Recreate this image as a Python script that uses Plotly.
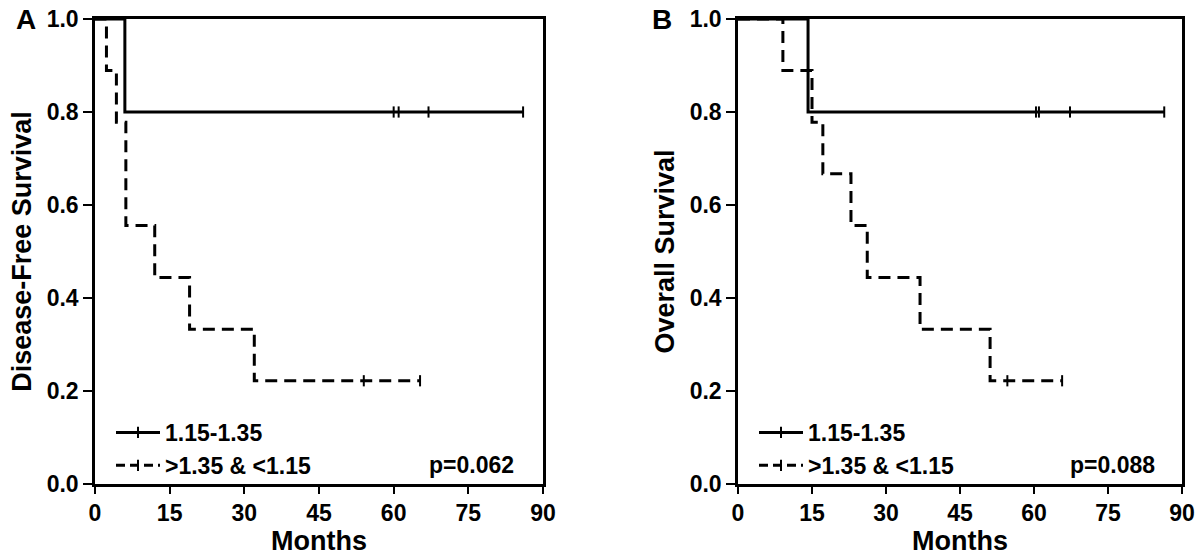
import plotly.graph_objects as go

# ---- Data ----
# Panel A: Disease-free survival
a_solid_t = [0, 6, 86]
a_solid_s = [1.0, 0.8, 0.8]
a_solid_cens_t = [60, 61, 67, 86]
a_solid_cens_s = [0.8, 0.8, 0.8, 0.8]

a_dash_t = [0, 2.3, 4.3, 6.2, 12, 19, 32, 65.3]
a_dash_s = [1.0, 0.889, 0.778, 0.556, 0.444, 0.333, 0.222, 0.222]
a_dash_cens_t = [54, 65.3]
a_dash_cens_s = [0.222, 0.222]

# Panel B: Overall survival
b_solid_t = [0, 14.2, 86.4]
b_solid_s = [1.0, 0.8, 0.8]
b_solid_cens_t = [60.4, 61.0, 67.3, 86.4]
b_solid_cens_s = [0.8, 0.8, 0.8, 0.8]

b_dash_t = [0, 9.1, 15.0, 17.2, 22.9, 26.2, 36.9, 51.1, 65.7]
b_dash_s = [1.0, 0.889, 0.778, 0.667, 0.556, 0.444, 0.333, 0.222, 0.222]
b_dash_cens_t = [54.6, 65.7]
b_dash_cens_s = [0.222, 0.222]

group_names = ["1.15-1.35", ">1.35 & <1.15"]
p_values = ["p=0.062", "p=0.088"]
y_titles = ["Disease-Free Survival", "Overall Survival"]
panel_letters = ["A", "B"]
x_ticks = [0, 15, 30, 45, 60, 75, 90]
y_ticks = [0.0, 0.2, 0.4, 0.6, 0.8, 1.0]

FONT = "Arial, Liberation Sans, sans-serif"
DASH = "12px,7px"
LW = 3

fig = go.Figure()

panels = [
    ("x", "y", "legend", a_solid_t, a_solid_s, a_solid_cens_t, a_solid_cens_s,
     a_dash_t, a_dash_s, a_dash_cens_t, a_dash_cens_s),
    ("x2", "y2", "legend2", b_solid_t, b_solid_s, b_solid_cens_t, b_solid_cens_s,
     b_dash_t, b_dash_s, b_dash_cens_t, b_dash_cens_s),
]

cens_marker = dict(symbol="line-ns", size=8, line=dict(color="black", width=2))

for (xa, ya, lg, st, ss, sct, scs, dt, ds, dct, dcs) in panels:
    fig.add_trace(go.Scatter(x=st, y=ss, mode="lines", line=dict(color="black", width=LW, shape="hv"),
                             xaxis=xa, yaxis=ya, showlegend=False, cliponaxis=False))
    fig.add_trace(go.Scatter(x=sct, y=scs, mode="markers", marker=cens_marker,
                             xaxis=xa, yaxis=ya, showlegend=False, cliponaxis=False))
    fig.add_trace(go.Scatter(x=dt, y=ds, mode="lines", line=dict(color="black", width=LW, shape="hv", dash=DASH),
                             xaxis=xa, yaxis=ya, showlegend=False, cliponaxis=False))
    fig.add_trace(go.Scatter(x=dct, y=dcs, mode="markers", marker=cens_marker,
                             xaxis=xa, yaxis=ya, showlegend=False, cliponaxis=False))
    # legend entries
    fig.add_trace(go.Scatter(x=[None], y=[None], mode="lines+markers", name=group_names[0],
                             line=dict(color="black", width=LW), marker=cens_marker,
                             xaxis=xa, yaxis=ya, legend=lg))
    fig.add_trace(go.Scatter(x=[None], y=[None], mode="lines+markers", name=group_names[1],
                             line=dict(color="black", width=LW, dash="9px,5px"), marker=cens_marker,
                             xaxis=xa, yaxis=ya, legend=lg))

W, H = 1200, 557

def fx(p):
    return p / W

def fy(p):
    return 1 - p / H

y_dom = [fy(484), fy(19)]
x_doms = [[fx(95), fx(543)], [fx(738), fx(1182)]]

axis_font = dict(family=FONT, size=23, color="black", weight="bold")
title_font = dict(family=FONT, size=27, color="black", weight="bold")

def xaxis(dom, anchor):
    return dict(domain=dom, anchor=anchor, range=[0, 90], tickvals=x_ticks, ticks="outside",
                ticklen=7, tickwidth=2, tickcolor="black", showline=True, linecolor="black",
                linewidth=2.5, mirror=True, showgrid=False, zeroline=False, tickfont=axis_font,
                ticklabeloverflow="allow",
                title=dict(text="Months", font=title_font, standoff=0), automargin=False)

def yaxis(dom, anchor, title):
    return dict(domain=dom, anchor=anchor, range=[0, 1.0], tickvals=y_ticks, tickformat=".1f",
                ticks="outside", ticklen=9, tickwidth=2, tickcolor="black", showline=True,
                linecolor="black", linewidth=2.5, mirror=True, showgrid=False, zeroline=False,
                tickfont=axis_font, ticklabeloverflow="allow",
                title=dict(text=title, font=title_font, standoff=8),
                automargin=False)

legend_common = dict(font=dict(family=FONT, size=23, color="black", weight="bold"),
                     bgcolor="rgba(0,0,0,0)", xanchor="left", yanchor="bottom",
                     tracegroupgap=0, itemwidth=44)

fig.update_layout(
    width=W, height=H,
    margin=dict(l=0, r=0, t=0, b=0),
    paper_bgcolor="white", plot_bgcolor="white",
    xaxis=xaxis(x_doms[0], "y"),
    yaxis=yaxis(y_dom, "x", y_titles[0]),
    xaxis2=xaxis(x_doms[1], "y2"),
    yaxis2=yaxis(y_dom, "x2", y_titles[1]),
    legend=dict(x=fx(111), y=fy(487), **legend_common),
    legend2=dict(x=fx(754), y=fy(487), **legend_common),
    annotations=[
        dict(text=p_values[0], x=84.5, y=0.041, xref="x", yref="y", xanchor="right", yanchor="middle",
             showarrow=False, font=dict(family=FONT, size=23, color="black", weight="bold")),
        dict(text=p_values[1], x=85, y=0.041, xref="x2", yref="y2", xanchor="right", yanchor="middle",
             showarrow=False, font=dict(family=FONT, size=23, color="black", weight="bold")),
        dict(text=panel_letters[0], x=fx(26), y=fy(2), xref="paper", yref="paper",
             xanchor="center", yanchor="top", showarrow=False,
             font=dict(family=FONT, size=28, color="black", weight="bold")),
        dict(text=panel_letters[1], x=fx(662), y=fy(2), xref="paper", yref="paper",
             xanchor="center", yanchor="top", showarrow=False,
             font=dict(family=FONT, size=28, color="black", weight="bold")),
    ],
)

# remove the default 8px page margin so the 1200x557 figure fills the window
fig.write_html("out.html", config={"displayModeBar": False},
               post_script="document.body.style.margin='0px';")
